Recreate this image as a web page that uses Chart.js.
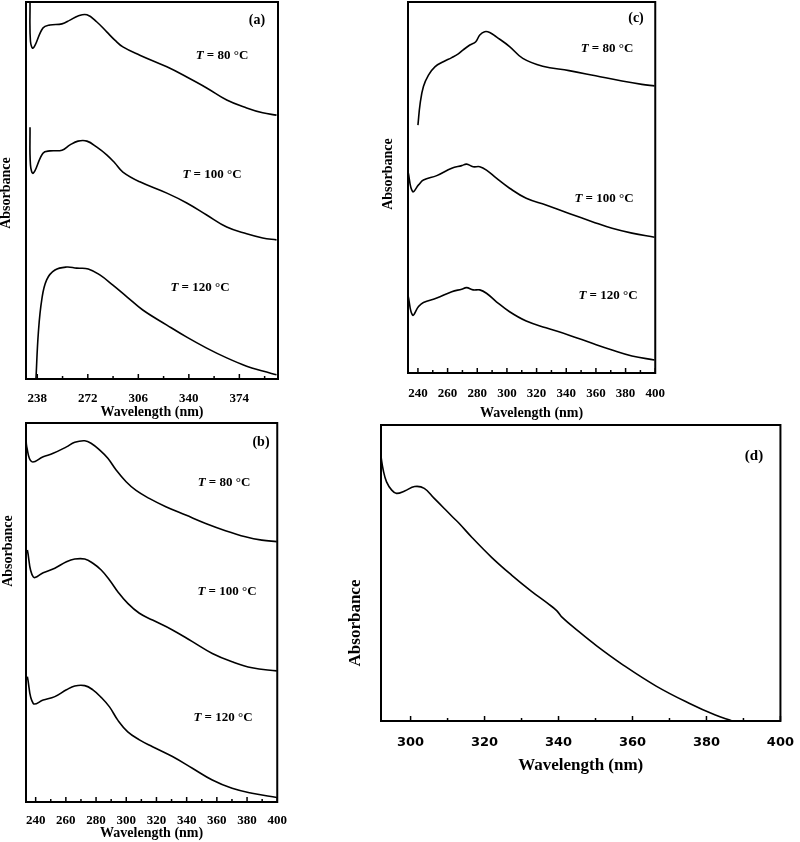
<!DOCTYPE html>
<html>
<head>
<meta charset="utf-8">
<script src="https://cdn.jsdelivr.net/npm/chart.js@4.4.0/dist/chart.umd.min.js"></script>
<style>
  body { margin: 0; background: #fff; }
  .wrap { position: relative; width: 800px; height: 842px; }
  canvas { position: absolute; }
</style>
</head>
<body>
<div class="wrap">
  <canvas id="pa" width="290" height="421" style="left:0;top:0"></canvas>
  <canvas id="pb" width="290" height="420" style="left:0;top:422px"></canvas>
  <canvas id="pc" width="300" height="422" style="left:370px;top:0"></canvas>
  <canvas id="pd" width="460" height="354" style="left:340px;top:422px"></canvas>
</div>
<script>
"use strict";

const temps = [80, 100, 120];

// panel (a)
const aTicks = [238, 272, 306, 340, 374];
const aMinor = [255, 289, 323, 357, 391];
const aWl = [233.1, 233.4, 235.3, 241.8, 246.5, 254.6, 260, 265.4, 271.4, 278.1, 284.9, 290.2, 295.6, 307, 325.2, 338.6, 352, 365.5, 378.9, 389.7, 399];
const aAbs80 = [100, 89.6, 87.8, 93.1, 93.9, 94.2, 95.2, 96.3, 96.6, 94.7, 92.0, 89.9, 88.1, 85.9, 82.8, 80.1, 77.2, 74.0, 71.9, 70.6, 70.0];
const aAbs100 = [66.8, 56.8, 54.6, 59.9, 60.5, 60.7, 62.1, 63.1, 63.1, 61.5, 59.4, 57.3, 54.9, 52.3, 49.3, 46.7, 43.5, 40.3, 38.5, 37.4, 36.9];
const aWl120 = [237.1, 238.7, 241, 244.3, 249.9, 257.8, 264.5, 272.3, 280.1, 288.9, 298.3, 309, 325.2, 338.6, 352, 365.5, 378.9, 389.7, 399];
const aAbs120 = [0, 12.2, 21.0, 26.3, 28.9, 29.7, 29.4, 29.2, 27.6, 24.9, 21.8, 18.3, 14.3, 11.1, 8.2, 5.6, 3.4, 2.1, 1.1];

// panel (b)
const bTicks = [240, 260, 280, 300, 320, 340, 360, 380, 400];
const bMinor = [250, 270, 290, 310, 330, 350, 370, 390];
const bWl80 = [233.6, 234.1, 237.4, 245, 251.6, 260.4, 265.9, 272.5, 276.9, 282.3, 287.8, 293.3, 299.9, 306.5, 315.2, 326.2, 339.4, 352.6, 365.7, 378.9, 389.8, 399.7];
const bAbs80 = [96.0, 93.7, 89.8, 91.1, 92.0, 93.7, 94.9, 95.3, 94.6, 92.9, 90.7, 87.6, 84.5, 82.2, 80.1, 77.9, 75.7, 73.5, 71.6, 70.0, 69.1, 68.7];
const bWl = [234.5, 238.4, 245, 252.7, 260.4, 265.9, 272.5, 277.9, 283.4, 288.9, 294.4, 301, 308.7, 317.4, 330.6, 343.8, 357, 370.1, 383.3, 399.7];
const bAbs100 = [66.5, 59.4, 60.5, 61.7, 63.4, 64.1, 64.1, 63.0, 61.2, 58.6, 55.5, 52.4, 49.8, 48.0, 45.4, 42.3, 39.2, 37.0, 35.4, 34.6];
const bAbs120 = [33.1, 26.0, 26.9, 27.8, 29.6, 30.6, 30.7, 29.6, 27.6, 25.1, 21.6, 18.5, 16.4, 14.6, 12.0, 8.9, 5.8, 3.6, 2.3, 1.2];

// panel (c)
const cTicks = [240, 260, 280, 300, 320, 340, 360, 380, 400];
const cMinor = [250, 270, 290, 310, 330, 350, 370, 390];
const cWl80 = [240, 241.5, 243.7, 247.1, 251.6, 257.1, 262.8, 267.2, 270.5, 275, 279, 281.7, 285, 288.4, 292.9, 301.8, 310.7, 324.1, 341.9, 359.8, 377.6, 391, 399.5];
const cAbs80 = [66.8, 72.7, 77.2, 80.3, 82.6, 83.9, 85.0, 86.0, 87.1, 88.4, 89.3, 91.1, 92.0, 91.8, 90.6, 88.0, 84.8, 82.7, 81.5, 80.1, 78.7, 77.8, 77.4];
const cWl = [233.3, 236.4, 240.4, 243.7, 252.7, 262.8, 269.5, 272.8, 277.2, 281.7, 286.2, 292.9, 301.8, 313, 326.3, 341.9, 357.5, 370.9, 384.3, 399.5];
const cAbs100 = [54.3, 48.9, 50.7, 52.0, 53.2, 55.2, 55.9, 56.3, 55.6, 55.6, 54.7, 52.5, 49.8, 47.1, 45.3, 43.0, 40.8, 39.0, 37.7, 36.6];
const cAbs120 = [21.0, 15.6, 17.9, 19.0, 20.2, 21.9, 22.6, 23.0, 22.4, 22.4, 21.5, 19.2, 16.5, 14.0, 12.2, 10.2, 8.0, 6.2, 4.6, 3.5];

// panel (d)
const dTicks = [300, 320, 340, 360, 380, 400];
const dMinor = [310, 330, 350, 370, 390];
const dWl = [292, 292.6, 293.5, 294.9, 296.2, 298.4, 301.1, 303.7, 306.4, 309.1, 311.3, 313.1, 316.6, 321.9, 327.3, 332.6, 337, 339.5, 341, 345.1, 350.4, 357.5, 366.4, 375.3, 382.4, 386.8];
const dAbs = [89.3, 84.8, 80.8, 78.0, 76.9, 77.7, 79.2, 78.6, 75.2, 71.8, 69.0, 66.8, 62.0, 55.3, 49.3, 43.9, 39.8, 37.3, 35.0, 30.6, 25.3, 18.9, 11.8, 6.0, 2.0, 0.1];

const serif = '"Liberation Serif", "Times New Roman", serif';

function pts(xs, ys) {
  return xs.map((x, i) => ({ x: x, y: ys[i] }));
}

function line(label, xs, ys) {
  return {
    label: label,
    data: pts(xs, ys),
    borderColor: '#000',
    borderWidth: 1.6,
    pointRadius: 0,
    fill: false,
    tension: 0.4
  };
}

// frame, inward ticks and the text labels
const panelDeco = {
  id: 'panelDeco',
  afterDraw(chart, args, o) {
    const ctx = chart.ctx;
    const a = chart.chartArea;
    const xs = chart.scales.x;
    ctx.save();
    ctx.strokeStyle = '#000';
    ctx.fillStyle = '#000';
    ctx.lineWidth = 1.5;
    const tick = (v, len) => {
      if (v < xs.min || v > xs.max) return;
      const px = xs.getPixelForValue(v);
      ctx.beginPath();
      ctx.moveTo(px, a.bottom);
      ctx.lineTo(px, a.bottom - len);
      ctx.stroke();
    };
    o.major.forEach(v => tick(v, 5));
    o.minor.forEach(v => tick(v, 3));
    ctx.lineWidth = 2;
    ctx.strokeRect(a.left, a.top, a.right - a.left, a.bottom - a.top);

    ctx.textBaseline = 'middle';
    // panel letter
    ctx.font = `bold ${o.tag.size}px ${serif}`;
    ctx.textAlign = 'center';
    ctx.fillText(o.tag.text, o.tag.x, o.tag.y);

    // temperature labels: italic T, then " = 80 °C"
    (o.temps || []).forEach(t => {
      const f1 = `italic bold 13px ${serif}`;
      const f2 = `bold 13px ${serif}`;
      const rest = ` = ${t.t} \u00b0C`;
      ctx.font = f1;
      const w1 = ctx.measureText('T').width;
      ctx.font = f2;
      const w2 = ctx.measureText(rest).width;
      let x0 = t.x - (w1 + w2) / 2;
      ctx.textAlign = 'left';
      ctx.font = f1;
      ctx.fillText('T', x0, t.y);
      ctx.font = f2;
      ctx.fillText(rest, x0 + w1, t.y);
    });

    // y title
    ctx.save();
    ctx.translate(o.yTitle.x, o.yTitle.y);
    ctx.rotate(-Math.PI / 2);
    ctx.textAlign = 'center';
    ctx.font = `bold ${o.yTitle.size}px ${serif}`;
    ctx.fillText('Absorbance', 0, 0);
    ctx.restore();
    ctx.restore();
  }
};

function makePanel(id, p) {
  return new Chart(document.getElementById(id), {
    type: 'line',
    data: { datasets: p.datasets },
    options: {
      responsive: false,
      animation: false,
      devicePixelRatio: 1,
      layout: { padding: { left: 0, top: p.padTop, right: p.padRight, bottom: 0 } },
      plugins: {
        legend: { display: false },
        tooltip: { enabled: false },
        panelDeco: p.deco
      },
      scales: {
        x: {
          type: 'linear',
          min: p.min,
          max: p.max,
          afterBuildTicks: s => { s.ticks = p.ticks.map(v => ({ value: v })); },
          afterFit: s => { s.height = p.xHeight; },
          grid: { display: false },
          border: { display: false },
          ticks: {
            color: '#000',
            padding: p.tickPad,
            maxRotation: 0,
            autoSkip: false,
            font: p.tickFont
          },
          title: {
            display: true,
            text: 'Wavelength (nm)',
            color: '#000',
            padding: 0,
            font: { family: serif, weight: 'bold', size: p.titleSize }
          }
        },
        y: {
          min: 0,
          max: 100,
          afterFit: s => { s.width = p.yWidth; },
          grid: { display: false },
          border: { display: false },
          ticks: { display: false }
        }
      }
    },
    plugins: [panelDeco]
  });
}

const serifTicks = { family: serif, weight: 'bold', size: 13 };

makePanel('pa', {
  datasets: [
    line(`T = ${temps[0]} °C`, aWl, aAbs80),
    line(`T = ${temps[1]} °C`, aWl, aAbs100),
    line(`T = ${temps[2]} °C`, aWl120, aAbs120)
  ],
  min: 230.4, max: 400, ticks: aTicks,
  padTop: 2, padRight: 12, xHeight: 42, yWidth: 26, tickPad: 4,
  tickFont: serifTicks, titleSize: 14,
  deco: {
    major: aTicks, minor: aMinor,
    tag: { text: '(a)', x: 257, y: 20, size: 14 },
    temps: [{ t: temps[0], x: 222, y: 56 }, { t: temps[1], x: 212, y: 175 }, { t: temps[2], x: 200, y: 288 }],
    yTitle: { x: 6, y: 193, size: 14 }
  }
});

makePanel('pb', {
  datasets: [
    line(`T = ${temps[0]} °C`, bWl80, bAbs80),
    line(`T = ${temps[1]} °C`, bWl, bAbs100),
    line(`T = ${temps[2]} °C`, bWl, bAbs120)
  ],
  min: 233.6, max: 400, ticks: bTicks,
  padTop: 1, padRight: 11, xHeight: 40, yWidth: 26, tickPad: 3,
  tickFont: serifTicks, titleSize: 14,
  deco: {
    major: bTicks, minor: bMinor,
    tag: { text: '(b)', x: 261, y: 20, size: 14 },
    temps: [{ t: temps[0], x: 224, y: 61 }, { t: temps[1], x: 227, y: 170 }, { t: temps[2], x: 223, y: 296 }],
    yTitle: { x: 8, y: 129, size: 14 }
  }
});

makePanel('pc', {
  datasets: [
    line(`T = ${temps[0]} °C`, cWl80, cAbs80),
    line(`T = ${temps[1]} °C`, cWl, cAbs100),
    line(`T = ${temps[2]} °C`, cWl, cAbs120)
  ],
  min: 233.3, max: 400, ticks: cTicks,
  padTop: 2, padRight: 13, xHeight: 49, yWidth: 38, tickPad: 5,
  tickFont: serifTicks, titleSize: 14,
  deco: {
    major: cTicks, minor: cMinor,
    tag: { text: '(c)', x: 266, y: 18, size: 14 },
    temps: [{ t: temps[0], x: 237, y: 49 }, { t: temps[1], x: 234, y: 199 }, { t: temps[2], x: 238, y: 296 }],
    yTitle: { x: 18, y: 174, size: 14 }
  }
});

makePanel('pd', {
  datasets: [line('Absorbance', dWl, dAbs)],
  min: 292, max: 400, ticks: dTicks,
  padTop: 3, padRight: 14, xHeight: 55, yWidth: 41, tickPad: 6,
  tickFont: { family: '"DejaVu Sans", Verdana, sans-serif', weight: 'bold', size: 13 },
  titleSize: 17,
  deco: {
    major: dTicks, minor: dMinor,
    tag: { text: '(d)', x: 414, y: 34, size: 15 },
    temps: [],
    yTitle: { x: 16, y: 201, size: 17 }
  }
});
</script>
</body>
</html>
